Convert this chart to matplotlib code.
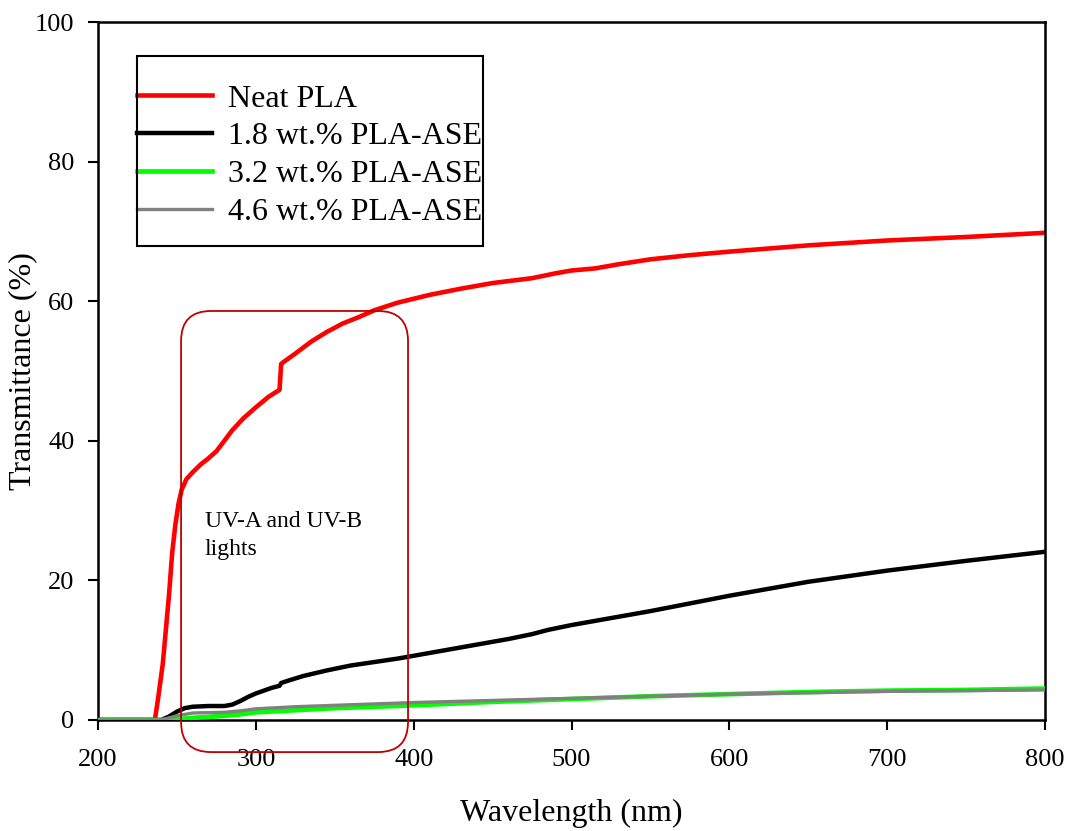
import numpy as np
import matplotlib.pyplot as plt
from matplotlib.patches import FancyBboxPatch, Rectangle

plt.rcParams['font.family'] = ['Liberation Serif', 'DejaVu Serif']

# Neat PLA
wl_neat = [200, 236, 238, 241, 243, 245, 247, 249, 251, 253, 256, 260, 265, 270, 275, 280,
           285, 292, 300, 308, 315, 316, 317, 325, 335, 345, 355, 365, 375, 390, 410, 430,
           450, 475, 490, 500, 515, 530, 550, 575, 600, 650, 700, 750, 800]
t_neat = [0, 0, 3, 8, 13, 18, 24, 28, 31, 33, 34.5, 35.5, 36.6, 37.5, 38.5, 40,
          41.5, 43.2, 44.8, 46.3, 47.3, 51, 51.2, 52.5, 54.2, 55.6, 56.8, 57.7, 58.7, 59.8, 60.9, 61.8,
          62.6, 63.3, 64.0, 64.4, 64.7, 65.3, 66, 66.6, 67.1, 68.0, 68.7, 69.2, 69.8]

# 1.8 wt.%
wl_18 = [200, 240, 245, 250, 255, 260, 270, 280, 285, 290, 295, 300, 305, 310, 315, 316,
         320, 330, 345, 360, 375, 390, 400, 420, 440, 460, 475, 485, 500, 550, 600, 650,
         700, 750, 800]
t_18 = [0, 0, 0.5, 1.2, 1.7, 1.9, 2.0, 2.0, 2.2, 2.7, 3.3, 3.8, 4.2, 4.6, 4.9, 5.3,
        5.6, 6.3, 7.1, 7.8, 8.3, 8.8, 9.2, 10.0, 10.8, 11.6, 12.3, 12.9, 13.6, 15.6, 17.8, 19.8,
        21.4, 22.8, 24.1]

# 3.2 and 4.6 wt.%
wl_low = [200, 240, 250, 260, 280, 290, 300, 325, 350, 375, 400, 450, 500, 550, 600, 650, 700, 750, 800]
t_32 = [0, 0, 0.1, 0.3, 0.6, 0.8, 1.1, 1.4, 1.7, 1.9, 2.1, 2.6, 3.0, 3.4, 3.7, 4.0, 4.2, 4.3, 4.5]
t_46 = [0, 0, 0.6, 1.0, 1.1, 1.3, 1.6, 1.9, 2.1, 2.3, 2.5, 2.8, 3.1, 3.4, 3.7, 3.9, 4.1, 4.2, 4.3]

labels = ['Neat PLA', '1.8 wt.% PLA-ASE', '3.2 wt.% PLA-ASE', '4.6 wt.% PLA-ASE']

fig = plt.figure(figsize=(10.68, 8.31), dpi=100)
ax = fig.add_axes([0.0918, 0.1336, 0.8867, 0.8399])

ax.plot(wl_neat, t_neat, color='#ff0000', lw=3.3, label=labels[0], zorder=2)
ax.plot(wl_18, t_18, color='black', lw=3.2, label=labels[1], zorder=3)
ax.plot(wl_low, t_32, color='#00ff00', lw=3.4, label=labels[2], zorder=4)
ax.plot(wl_low, t_46, color='#808080', lw=2.4, label=labels[3], zorder=5)

# highlighted UV region
box = FancyBboxPatch((252.6, -4.6), 143.8, 63.2,
                     boxstyle='round,pad=0,rounding_size=19',
                     mutation_aspect=0.226, fill=False, ec='#c00000', lw=1.3,
                     clip_on=False, zorder=6)
ax.add_patch(box)
ax.text(267.5, 29.9, 'UV-A and UV-B\nlights', fontsize=17, va='top', ha='left',
        linespacing=1.45)

ax.set_xlim(200, 800)
ax.set_ylim(0, 100)
ax.set_xticks(np.arange(200, 801, 100))
ax.set_yticks(np.arange(0, 101, 20))
ax.tick_params(direction='out', length=7, width=1.5, labelsize=19, pad=14)
ax.tick_params(axis='y', pad=10)
for s in ax.spines.values():
    s.set_linewidth(1.8)

ax.set_xlabel('Wavelength (nm)', fontsize=23, labelpad=20)
ax.set_ylabel('Transmittance (%)', fontsize=23)
ax.yaxis.set_label_coords(-0.064, 0.5)

leg = ax.legend(loc='upper left', bbox_to_anchor=(0.0412, 0.911), fontsize=23,
                frameon=False, handlelength=2.35, handletextpad=0.5,
                labelspacing=0.27, borderpad=0, borderaxespad=0)
ax.add_patch(Rectangle((0.0412, 0.679), 0.3653, 0.2723, transform=ax.transAxes,
                       fill=False, ec='black', lw=1.5, zorder=7))

fig.savefig('out.png', dpi=100)
